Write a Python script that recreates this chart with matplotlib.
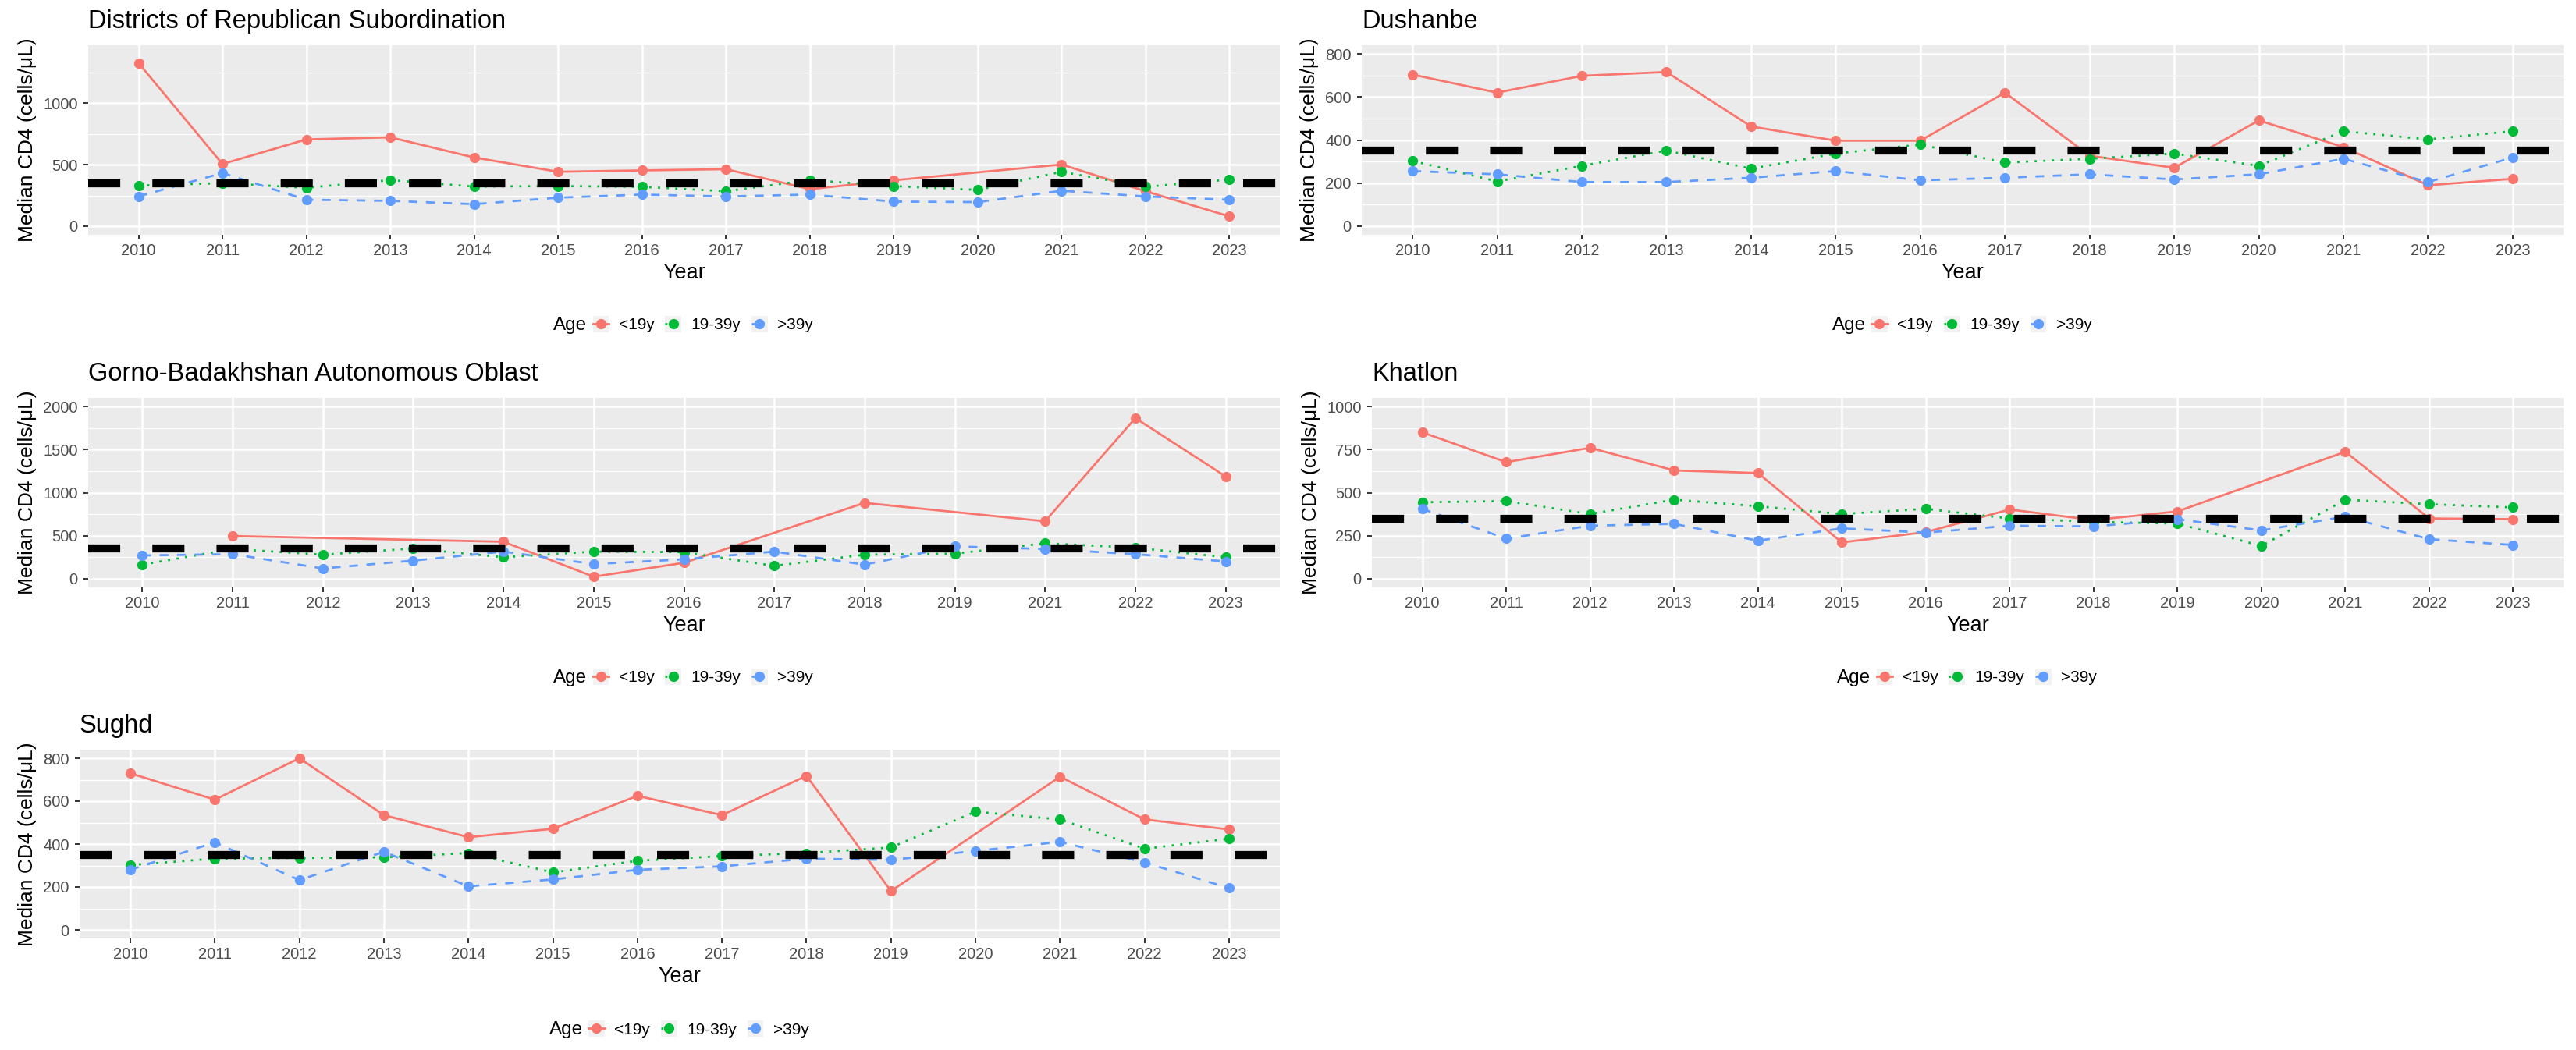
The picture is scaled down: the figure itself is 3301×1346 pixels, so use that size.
import matplotlib
matplotlib.use("Agg")
import matplotlib.pyplot as plt
from matplotlib.lines import Line2D
from matplotlib.patches import Rectangle
from matplotlib.legend_handler import HandlerLine2D

plt.rcParams['font.family'] = ['Liberation Sans', 'DejaVu Sans']

# ---------------- data ----------------
years = [2010, 2011, 2012, 2013, 2014, 2015, 2016, 2017, 2018, 2019, 2020, 2021, 2022, 2023]
years_gbao = [2010, 2011, 2012, 2013, 2014, 2015, 2016, 2017, 2018, 2019, 2021, 2022, 2023]
age_groups = ["<19y", "19-39y", ">39y"]
threshold = 350

drs_lt19 = [1326, 505, 705, 722, 558, 442, 453, 463, 301, 373, None, 501, 284, 80]
drs_19_39 = [330, 350, 312, 375, 322, 326, 320, 284, 375, 326, 295, 442, 320, 379]
drs_gt39 = [242, 432, 215, 206, 179, 232, 257, 242, 257, 200, 196, 288, 242, 215]

dus_lt19 = [704, 620, 698, 716, 463, 397, 397, 620, 327, 271, 491, 367, 190, 220]
dus_19_39 = [303, 208, 280, 351, 267, 337, 379, 295, 313, 337, 280, 441, 403, 441]
dus_gt39 = [256, 241, 205, 205, 225, 256, 213, 225, 241, 217, 241, 313, 205, 319]

gbao_lt19 = [None, 496, None, None, 430, 24, 186, None, 881, None, 668, 1865, 1188]
gbao_19_39 = [165, 346, 280, 352, 250, 316, 310, 150, 280, 292, 412, 361, 250]
gbao_gt39 = [271, 286, 120, 211, 316, 171, 226, 316, 165, 376, 346, 286, 202]

kha_lt19 = [850, 677, 760, 629, 614, 211, 271, 402, 341, 391, None, 737, 350, 346]
kha_19_39 = [444, 451, 376, 459, 421, 376, 406, 350, 331, 320, 191, 459, 433, 414]
kha_gt39 = [406, 233, 308, 319, 221, 293, 268, 308, 304, 346, 281, 361, 230, 196]

sug_lt19 = [730, 607, 800, 535, 432, 471, 625, 535, 718, 181, None, 714, 515, 468]
sug_19_39 = [302, 332, 335, 338, 358, 268, 322, 344, 358, 384, 551, 515, 378, 425]
sug_gt39 = [280, 408, 232, 364, 203, 235, 280, 296, 332, 326, 368, 410, 314, 195]

# ---------------- styles ----------------
colors = ["#F8766D", "#00BA38", "#619CFF"]
dashes = [None, (1, 3), (4, 4)]

W, H = 3301, 1346
fig = plt.figure(figsize=(W / 100, H / 100), dpi=100)


class KeyHandler(HandlerLine2D):
    def create_artists(self, legend, orig_handle, xdescent, ydescent,
                       width, height, fontsize, trans):
        arts = super().create_artists(legend, orig_handle, xdescent, ydescent,
                                      width, height, fontsize, trans)
        side = width
        rect = Rectangle((-xdescent, -ydescent + height / 2 - side / 2), side, side,
                         facecolor="#F2F2F2", edgecolor="none", transform=trans)
        return [rect] + list(arts)


def panel(box, title, cats, series, yticks, yminor, ylim, legend_y):
    l, t, r, b = box
    ax = fig.add_axes([l / W, 1 - b / H, (r - l) / W, (b - t) / H])
    ax.set_facecolor("#EBEBEB")
    for s in ax.spines.values():
        s.set_visible(False)
    n = len(cats)
    ax.set_xlim(-0.6, n - 1 + 0.6)
    ax.set_ylim(*ylim)
    ax.set_xticks(range(n))
    ax.set_xticklabels([str(c) for c in cats])
    ax.set_yticks(yticks)
    ax.set_yticks(yminor, minor=True)
    ax.grid(which="major", color="white", linewidth=1.9, zorder=0)
    ax.grid(which="minor", axis="y", color="white", linewidth=0.95, zorder=0)
    ax.set_axisbelow(True)
    ax.tick_params(which="major", length=4.5, width=1.4, color="#333333",
                   labelsize=14.5, labelcolor="#4D4D4D")
    ax.tick_params(axis="x", pad=3.5)
    ax.tick_params(axis="y", pad=5)
    ax.tick_params(which="minor", length=0)
    # lines first, then points
    for k, vals in enumerate(series):
        xs = [i for i, v in enumerate(vals) if v is not None]
        ys = [v for v in vals if v is not None]
        ln, = ax.plot(xs, ys, color=colors[k], linewidth=2.0, zorder=2 + k * 0.01,
                      solid_capstyle="butt", dash_capstyle="butt")
        if dashes[k] is not None:
            ln.set_dashes(dashes[k])
    for k, vals in enumerate(series):
        xs = [i for i, v in enumerate(vals) if v is not None]
        ys = [v for v in vals if v is not None]
        ax.plot(xs, ys, linestyle="none", marker="o", markersize=8.5,
                color=colors[k], zorder=3 + k * 0.01)
    hl = ax.axhline(threshold, color="black", linewidth=7.4, zorder=4,
                    dash_capstyle="butt")
    hl.set_dashes((4, 4))
    ax.set_title(title, loc="left", fontsize=23.5, pad=15.5, color="black")
    ax.set_xlabel("Year", fontsize=19.5, labelpad=4)
    ax.set_ylabel("Median CD4 (cells/\u03bcL)", fontsize=19, labelpad=6)

    # legend (Age title on the left, keys in a row)
    cx = (l + r) / 2
    fig.text((cx - 124) / W, 1 - legend_y / H, "Age", ha="right", va="center",
             fontsize=17.5, color="black")
    handles = []
    for k in range(3):
        h = Line2D([0], [0], color=colors[k], linewidth=2.0, marker="o",
                   markersize=8.5)
        if dashes[k] is not None:
            h.set_dashes(dashes[k])
        handles.append(h)
    fig.legend(handles, age_groups, loc="center left",
               bbox_to_anchor=((cx - 117) / W, 1 - legend_y / H),
               ncol=3, frameon=False, fontsize=15, handlelength=1.0,
               handletextpad=0.6, columnspacing=0.65, borderpad=0,
               borderaxespad=0, handler_map={Line2D: KeyHandler()})
    return ax


panel((113, 58, 1640, 301), "Districts of Republican Subordination", years,
      [drs_lt19, drs_19_39, drs_gt39], [0, 500, 1000], [250, 750, 1250],
      (-70, 1470), 417)
panel((1745, 58, 3285, 301), "Dushanbe", years,
      [dus_lt19, dus_19_39, dus_gt39], [0, 200, 400, 600, 800], [100, 300, 500, 700],
      (-40, 840), 417)
panel((113, 510, 1640, 753), "Gorno-Badakhshan Autonomous Oblast", years_gbao,
      [gbao_lt19, gbao_19_39, gbao_gt39], [0, 500, 1000, 1500, 2000],
      [250, 750, 1250, 1750], (-100, 2100), 869)
panel((1758, 510, 3285, 753), "Khatlon", years,
      [kha_lt19, kha_19_39, kha_gt39], [0, 250, 500, 750, 1000],
      [125, 375, 625, 875], (-50, 1050), 869)
panel((102, 961, 1640, 1203), "Sughd", years,
      [sug_lt19, sug_19_39, sug_gt39], [0, 200, 400, 600, 800], [100, 300, 500, 700],
      (-40, 840), 1320)

fig.savefig("out.png", dpi=100, facecolor="white")
